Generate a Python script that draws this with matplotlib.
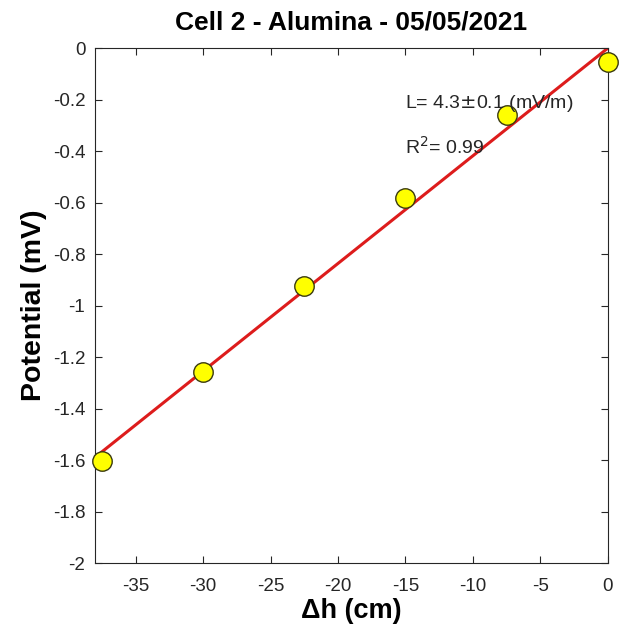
import numpy as np
import matplotlib.pyplot as plt

plt.rcParams['font.family'] = ['Liberation Sans', 'DejaVu Sans']

# measured points
dh = np.array([-37.5, -30.0, -22.5, -15.0, -7.5, 0.0])        # cm
pot = np.array([-1.605, -1.257, -0.925, -0.584, -0.259, -0.054])  # mV

x_ticks = [-35, -30, -25, -20, -15, -10, -5, 0]
y_ticks = [-2, -1.8, -1.6, -1.4, -1.2, -1, -0.8, -0.6, -0.4, -0.2, 0]
fit_text = "L= 4.3$\\pm$0.1 (mV/m)"
r2_text = "R$^2$= 0.99"

# linear fit through origin
slope = np.sum(dh * pot) / np.sum(dh * dh)
xfit = np.array([dh.min(), 0.0])

fig = plt.figure(figsize=(6.23, 6.26), dpi=100)
ax = fig.add_axes([0.1525, 0.1006, 0.8234, 0.8227])

ax.plot(xfit, slope * xfit, color="#dd1c1c", linewidth=2.2, zorder=2)
ax.plot(dh, pot, linestyle="none", marker="o", markersize=14,
        markerfacecolor="#ffff00", markeredgecolor="#3a3a10",
        markeredgewidth=1.0, zorder=3, clip_on=False)

ax.text(-15, -0.215, fit_text, fontsize=14, color="#262626", va="center", ha="left")
ax.text(-15, -0.385, r2_text, fontsize=14, color="#262626", va="center", ha="left")

ax.set_xlim(-38, 0)
ax.set_ylim(-2, 0)
ax.set_xticks(x_ticks)
ax.set_yticks(y_ticks)
ax.set_xticklabels([str(v) for v in x_ticks])
ax.set_yticklabels(["%g" % v for v in y_ticks])
ax.tick_params(direction="in", length=5, width=0.8, labelsize=13.5,
               colors="#262626", top=True, right=True)
ax.tick_params(axis="x", pad=11)
ax.tick_params(axis="y", pad=7)
for s in ax.spines.values():
    s.set_color("#262626")
    s.set_linewidth(0.8)

ax.set_title("Cell 2 - Alumina - 05/05/2021", fontsize=19, fontweight="bold", pad=13)
ax.set_xlabel("\u0394h (cm)", fontsize=19.5, fontweight="bold", labelpad=2)
ax.set_ylabel("Potential (mV)", fontsize=20.5, fontweight="bold", labelpad=4)

fig.savefig("out.png", dpi=100)
